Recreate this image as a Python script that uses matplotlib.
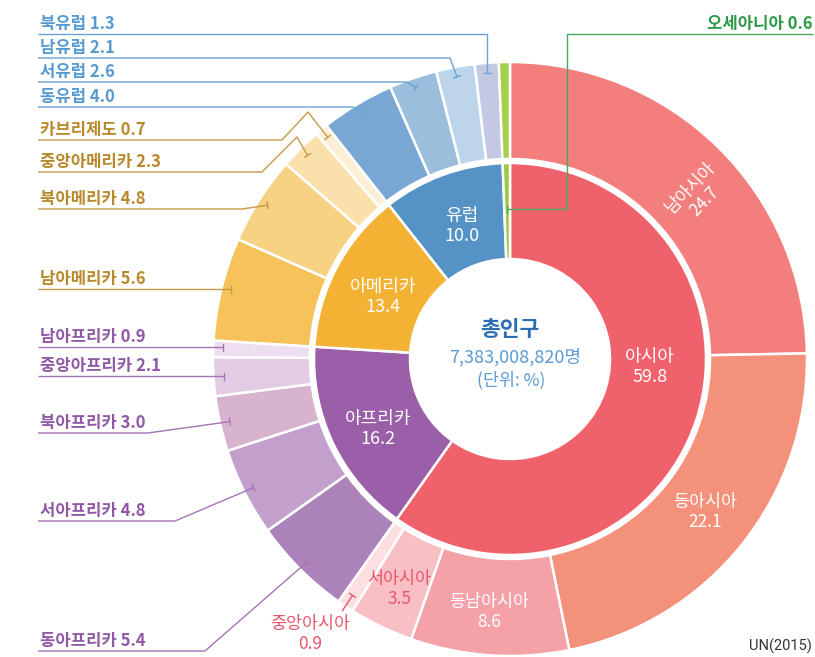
import matplotlib.pyplot as plt
import numpy as np

plt.rcParams['font.family'] = ['Noto Sans CJK KR', 'DejaVu Sans']

# 대륙별 인구 비율 (UN 2015, 단위: %)
continents = ["아시아", "아프리카", "아메리카", "유럽", "오세아니아"]
continent_values = [59.8, 16.2, 13.4, 10.0, 0.6]
continent_colors = ["#ef626c", "#9a5fa8", "#f3b234", "#5593c7", "#9dca45"]

regions = ["남아시아", "동아시아", "동남아시아", "서아시아", "중앙아시아",
           "동아프리카", "서아프리카", "북아프리카", "중앙아프리카", "남아프리카",
           "남아메리카", "북아메리카", "중앙아메리카", "카브리제도",
           "동유럽", "서유럽", "남유럽", "북유럽",
           "오세아니아"]
region_values = [24.7, 22.1, 8.6, 3.5, 0.9,
                 5.4, 4.8, 3.0, 2.1, 0.9,
                 5.6, 4.8, 2.3, 0.7,
                 4.0, 2.6, 2.1, 1.3,
                 0.6]
region_colors = ["#f27f7d", "#f4917b", "#f4a1a8", "#f8c0c4", "#fcdfe0",
                 "#ac82ba", "#c3a0cb", "#d7b3d0", "#e3cce3", "#eddff0",
                 "#f6c35a", "#f8d283", "#fae1ac", "#fcefd5",
                 "#77a7d2", "#9bbedd", "#bcd5ea", "#c3c9e3",
                 "#a6cf4b"]

total_pop = "7,383,008,820명"

W, H = 815, 657
cx, cy = 510, H - 359
R_OUT, R_MID_OUT, R_MID_IN, R_HOLE = 297, 200, 196, 100

fig = plt.figure(figsize=(W / 100, H / 100), dpi=100)
ax = fig.add_axes([0, 0, 1, 1])

ax.pie(region_values, colors=region_colors, radius=R_OUT, center=(cx, cy),
       startangle=90, counterclock=False,
       wedgeprops=dict(width=R_OUT - R_MID_OUT, edgecolor="white", linewidth=1.8))
ax.pie(continent_values, colors=continent_colors, radius=R_MID_IN, center=(cx, cy),
       startangle=90, counterclock=False,
       wedgeprops=dict(width=R_MID_IN - R_HOLE, edgecolor="white", linewidth=1.8))

ax.set_xlim(0, W)
ax.set_ylim(0, H)
ax.set_aspect("equal")
ax.axis("off")


def P(x, y):
    # 픽셀 좌표(위에서 아래로) -> 데이터 좌표
    return x, H - y


def mid_point(values, idx, r):
    start = sum(values[:idx])
    mid = start + values[idx] / 2
    ang = np.deg2rad(90 - mid / sum(values) * 360)
    return cx + r * np.cos(ang), cy + r * np.sin(ang)


def leader(route, target, color):
    pts = [P(*p) for p in route] + [target]
    xs, ys = zip(*pts)
    ax.plot(xs, ys, color=color, lw=1.0, solid_capstyle="butt")
    # 끝의 작은 눈금
    dx, dy = xs[-1] - xs[-2], ys[-1] - ys[-2]
    n = np.hypot(dx, dy)
    px, py = -dy / n * 3.5, dx / n * 3.5
    ax.plot([xs[-1] - px, xs[-1] + px], [ys[-1] - py, ys[-1] + py], color=color, lw=1.0)


C_EU, C_AM, C_AF, C_AS, C_OC = "#5a9ad2", "#b8892c", "#9059a5", "#e9566b", "#2e9a47"
LINE_EU, LINE_AM, LINE_AF = "#6aa3d6", "#c49a45", "#a574b6"

# 왼쪽 라벨: (지역, 밑줄 y, 경유점, 색)
left_labels = [
    ("북유럽", 34, [(490, 34)], C_EU, LINE_EU, "v"),
    ("남유럽", 58, [(450, 58)], C_EU, LINE_EU, None),
    ("서유럽", 82, [(407, 82)], C_EU, LINE_EU, None),
    ("동유럽", 107, [(353, 107)], C_EU, LINE_EU, None),
    ("카브리제도", 140, [(282, 140), (308, 112)], C_AM, LINE_AM, None),
    ("중앙아메리카", 172, [(262, 172), (297, 137)], C_AM, LINE_AM, None),
    ("북아메리카", 209, [(242, 209)], C_AM, LINE_AM, None),
    ("남아메리카", 289, [], C_AM, LINE_AM, "h"),
    ("남아프리카", 347, [], C_AF, LINE_AF, "h"),
    ("중앙아프리카", 376, [], C_AF, LINE_AF, "h"),
    ("북아프리카", 433, [(148, 433)], C_AF, LINE_AF, None),
    ("서아프리카", 521, [(175, 521)], C_AF, LINE_AF, None),
    ("동아프리카", 651, [(205, 651)], C_AF, LINE_AF, None),
]

for name, uy, via, tcol, lcol, mode in left_labels:
    i = regions.index(name)
    tx, ty = mid_point(region_values, i, 287)
    route = [(38, uy)] + via
    if mode == "v":
        route[-1] = (tx, uy)
    elif mode == "h":
        ty = H - uy
    leader(route, (tx, ty), lcol)
    ax.text(*P(40, uy - 1), f"{name} {region_values[i]:.1f}", color=tcol,
            fontsize=12, fontweight="bold", ha="left", va="bottom")

# 오세아니아
tx, ty = mid_point(continent_values, 4, 150)
leader([(813, 34), (567, 34), (567, 359 - (ty - cy))], (tx, ty), "#4aa85a")
ax.text(*P(813, 33), f"오세아니아 {continent_values[4]:.1f}", color=C_OC,
        fontsize=12, fontweight="bold", ha="right", va="bottom")

# 중앙아시아 짧은 지시선
i = regions.index("중앙아시아")
a = mid_point(region_values, i, 303)
b = mid_point(region_values, i, 284)
leader([(a[0], H - a[1])], b, C_AS)

# 안쪽 고리 라벨
inner_pos = {"아시아": (650, 367), "아프리카": (378, 429),
             "아메리카": (383, 297), "유럽": (462, 226)}
for name, (x, y) in inner_pos.items():
    v = continent_values[continents.index(name)]
    ax.text(*P(x, y), f"{name}\n{v:.1f}", color="white", fontsize=13,
            ha="center", va="center", linespacing=1.15)

# 바깥 고리 라벨
outer_pos = {"남아시아": (697, 195, 46, "white"), "동아시아": (705, 512, 0, "white"),
             "동남아시아": (489, 612, 0, "white"), "서아시아": (399, 589, 0, C_AS),
             "중앙아시아": (310, 634, 0, C_AS)}
for name, (x, y, rot, col) in outer_pos.items():
    v = region_values[regions.index(name)]
    ax.text(*P(x, y), f"{name}\n{v:.1f}", color=col, fontsize=12.5,
            ha="center", va="center", rotation=rot, linespacing=1.1)

# 가운데
ax.text(*P(510, 330), "총인구", color="#2c6db4", fontsize=15.5, fontweight="bold",
        ha="center", va="center")
ax.text(*P(515, 357), total_pop, color="#5b9bd5", fontsize=13, ha="center", va="center")
ax.text(*P(511, 380), "(단위: %)", color="#5b9bd5", fontsize=12.5, ha="center", va="center")

ax.text(*P(812, 646), "UN(2015)", color="#333333", fontsize=10.5, ha="right", va="center",
        family=["Roboto", "DejaVu Sans"])

fig.savefig("out.png", dpi=100)
